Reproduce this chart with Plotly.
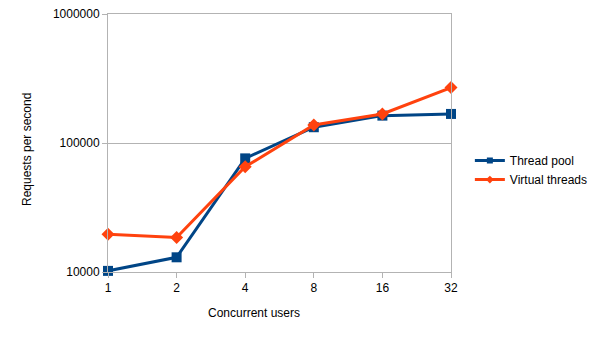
import plotly.graph_objects as go

users = ["1", "2", "4", "8", "16", "32"]
thread_pool = [10200, 13000, 76000, 132500, 163000, 168000]
virtual_threads = [19600, 18500, 65400, 138000, 168000, 269000]
y_ticks = [10000, 100000, 1000000]

FONT = "Liberation Sans, Arial, sans-serif"
GRID = "#b3b3b3"
BLUE = "#004586"
ORANGE = "#ff420e"

fig = go.Figure()
fig.add_trace(go.Scatter(
    x=users, y=thread_pool, name="Thread pool", mode="lines+markers",
    line=dict(color=BLUE, width=3),
    marker=dict(symbol="square", size=10, color=BLUE),
    cliponaxis=False, showlegend=False,
))
fig.add_trace(go.Scatter(
    x=users, y=virtual_threads, name="Virtual threads", mode="lines+markers",
    line=dict(color=ORANGE, width=3),
    marker=dict(symbol="diamond", size=10, color=ORANGE),
    cliponaxis=False, showlegend=False,
))
# legend entries with smaller symbols
fig.add_trace(go.Scatter(
    x=[None], y=[None], name="Thread pool", mode="lines+markers",
    line=dict(color=BLUE, width=3),
    marker=dict(symbol="square", size=6, color=BLUE),
))
fig.add_trace(go.Scatter(
    x=[None], y=[None], name="Virtual threads", mode="lines+markers",
    line=dict(color=ORANGE, width=3),
    marker=dict(symbol="diamond", size=6, color=ORANGE),
))

fig.update_layout(
    width=606, height=341,
    margin=dict(l=108, r=155, t=14, b=69, autoexpand=False),
    paper_bgcolor="white", plot_bgcolor="white",
    font=dict(family=FONT, size=12, color="#000000"),
    showlegend=True,
    legend=dict(
        x=1.055, xanchor="left", y=0.395, yanchor="middle",
        font=dict(size=12), bgcolor="rgba(0,0,0,0)", tracegroupgap=0,
        itemsizing="trace",
    ),
    xaxis=dict(
        type="category", range=[0, 5],
        showgrid=False, showline=True, linecolor=GRID, linewidth=1,
        mirror=True, ticks="outside", ticklen=5, tickcolor=GRID,
        tickfont=dict(size=12), zeroline=False,
    ),
    yaxis=dict(
        type="log", range=[4, 6],
        tickvals=y_ticks, ticktext=[str(v) for v in y_ticks],
        showgrid=True, gridcolor=GRID, gridwidth=1,
        showline=True, linecolor=GRID, linewidth=1, mirror=True,
        ticks="outside", ticklen=5, tickcolor=GRID,
        tickfont=dict(size=12), zeroline=False,
    ),
    annotations=[
        dict(text="Concurrent users", xref="paper", yref="paper",
             x=0.4257, y=-0.159, xanchor="center", yanchor="middle",
             showarrow=False, font=dict(size=12)),
        dict(text="Requests per second", xref="paper", yref="paper",
             x=-0.236, y=0.473, xanchor="center", yanchor="middle",
             textangle=-90, showarrow=False, font=dict(size=12)),
    ],
)

fig.write_html("out.html")
